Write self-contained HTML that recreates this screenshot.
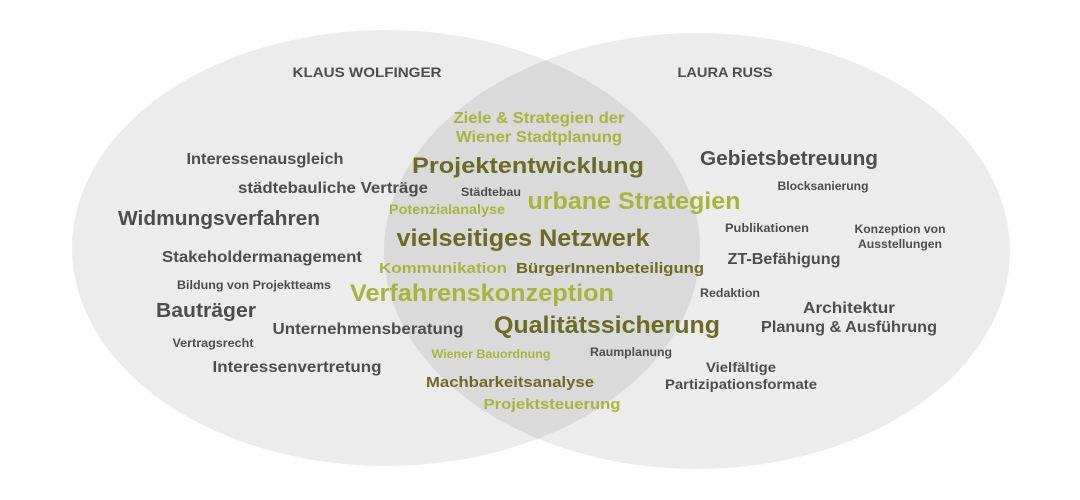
<!DOCTYPE html>
<html><head><meta charset="utf-8"><style>
html,body{margin:0;padding:0;background:#fff;}
svg{display:block;}
text{font-family:"Liberation Sans",sans-serif;font-weight:bold;text-anchor:middle;}
.g{fill:#4d4d4d}.d{fill:#6b6b24}.l{fill:#a6b53b}
</style></head><body>
<svg width="1080" height="500" viewBox="0 0 1080 500" xmlns="http://www.w3.org/2000/svg">
<ellipse cx="386" cy="248" rx="314" ry="218" fill="rgba(0,0,0,0.075)"/>
<ellipse cx="697" cy="251" rx="313" ry="218" fill="rgba(0,0,0,0.075)"/>
<g lengthAdjust="spacingAndGlyphs">
<text class="g" x="367" y="77" font-size="14" textLength="149" lengthAdjust="spacingAndGlyphs">KLAUS WOLFINGER</text>
<text class="g" x="725" y="77" font-size="14" textLength="95" lengthAdjust="spacingAndGlyphs">LAURA RUSS</text>
<text class="l" x="539" y="123" font-size="16" textLength="171" lengthAdjust="spacingAndGlyphs">Ziele &amp; Strategien der</text>
<text class="l" x="539" y="142" font-size="16" textLength="166" lengthAdjust="spacingAndGlyphs">Wiener Stadtplanung</text>
<text class="g" x="265" y="164" font-size="16" textLength="157" lengthAdjust="spacingAndGlyphs">Interessenausgleich</text>
<text class="d" x="528" y="173" font-size="22" textLength="232" lengthAdjust="spacingAndGlyphs">Projektentwicklung</text>
<text class="g" x="789" y="165" font-size="20" textLength="178" lengthAdjust="spacingAndGlyphs">Gebietsbetreuung</text>
<text class="g" x="333" y="193" font-size="16" textLength="190" lengthAdjust="spacingAndGlyphs">städtebauliche Verträge</text>
<text class="g" x="491" y="196" font-size="12" textLength="60" lengthAdjust="spacingAndGlyphs">Städtebau</text>
<text class="g" x="823" y="190" font-size="12" textLength="91" lengthAdjust="spacingAndGlyphs">Blocksanierung</text>
<text class="l" x="634" y="209" font-size="24" textLength="213" lengthAdjust="spacingAndGlyphs">urbane Strategien</text>
<text class="l" x="447" y="214" font-size="14" textLength="116" lengthAdjust="spacingAndGlyphs">Potenzialanalyse</text>
<text class="g" x="219" y="225" font-size="20" textLength="202" lengthAdjust="spacingAndGlyphs">Widmungsverfahren</text>
<text class="g" x="767" y="232" font-size="12" textLength="84" lengthAdjust="spacingAndGlyphs">Publikationen</text>
<text class="g" x="900" y="233" font-size="12" textLength="91" lengthAdjust="spacingAndGlyphs">Konzeption von</text>
<text class="g" x="900" y="248" font-size="12" textLength="84" lengthAdjust="spacingAndGlyphs">Ausstellungen</text>
<text class="d" x="523" y="246" font-size="24" textLength="253" lengthAdjust="spacingAndGlyphs">vielseitiges Netzwerk</text>
<text class="g" x="262" y="262" font-size="16" textLength="200" lengthAdjust="spacingAndGlyphs">Stakeholdermanagement</text>
<text class="g" x="784" y="264" font-size="16" textLength="113" lengthAdjust="spacingAndGlyphs">ZT-Befähigung</text>
<text class="l" x="443" y="273" font-size="15" textLength="128" lengthAdjust="spacingAndGlyphs">Kommunikation</text>
<text class="d" x="610" y="273" font-size="15" textLength="188" lengthAdjust="spacingAndGlyphs">BürgerInnenbeteiligung</text>
<text class="g" x="254" y="289" font-size="12" textLength="154" lengthAdjust="spacingAndGlyphs">Bildung von Projektteams</text>
<text class="l" x="482" y="301" font-size="24" textLength="264" lengthAdjust="spacingAndGlyphs">Verfahrenskonzeption</text>
<text class="g" x="730" y="297" font-size="12" textLength="60" lengthAdjust="spacingAndGlyphs">Redaktion</text>
<text class="g" x="849" y="313" font-size="16" textLength="92" lengthAdjust="spacingAndGlyphs">Architektur</text>
<text class="g" x="206" y="317" font-size="20" textLength="100" lengthAdjust="spacingAndGlyphs">Bauträger</text>
<text class="d" x="607" y="333" font-size="24" textLength="226" lengthAdjust="spacingAndGlyphs">Qualitätssicherung</text>
<text class="g" x="368" y="334" font-size="16" textLength="191" lengthAdjust="spacingAndGlyphs">Unternehmensberatung</text>
<text class="g" x="849" y="332" font-size="16" textLength="176" lengthAdjust="spacingAndGlyphs">Planung &amp; Ausführung</text>
<text class="g" x="213" y="347" font-size="12" textLength="81" lengthAdjust="spacingAndGlyphs">Vertragsrecht</text>
<text class="l" x="491" y="358" font-size="12" textLength="119" lengthAdjust="spacingAndGlyphs">Wiener Bauordnung</text>
<text class="g" x="631" y="356" font-size="12" textLength="82" lengthAdjust="spacingAndGlyphs">Raumplanung</text>
<text class="g" x="297" y="372" font-size="16" textLength="169" lengthAdjust="spacingAndGlyphs">Interessenvertretung</text>
<text class="g" x="741" y="372" font-size="14" textLength="70" lengthAdjust="spacingAndGlyphs">Vielfältige</text>
<text class="g" x="741" y="389" font-size="14" textLength="152" lengthAdjust="spacingAndGlyphs">Partizipationsformate</text>
<text class="d" x="510" y="387" font-size="15" textLength="168" lengthAdjust="spacingAndGlyphs">Machbarkeitsanalyse</text>
<text class="l" x="552" y="409" font-size="15" textLength="137" lengthAdjust="spacingAndGlyphs">Projektsteuerung</text>
</g>
</svg>
</body></html>
